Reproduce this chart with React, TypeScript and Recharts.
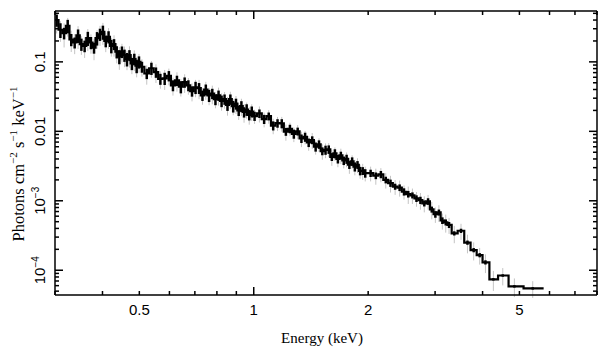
import { LineChart, Line, XAxis, YAxis, ErrorBar } from 'recharts';

// bin centres (keV)
const energy = [
  0.303, 0.31, 0.317, 0.324, 0.331, 0.338, 0.345, 0.352, 0.359, 0.366, 0.373, 0.38, 0.387, 0.394, 0.401,
  0.408, 0.415, 0.422, 0.429, 0.436, 0.443, 0.45, 0.457, 0.464, 0.471, 0.478, 0.485, 0.492, 0.499,
  0.508, 0.523, 0.538, 0.553, 0.568, 0.583, 0.598, 0.613, 0.628, 0.643, 0.658, 0.673, 0.688, 0.703, 0.718,
  0.733, 0.748, 0.763, 0.778, 0.793, 0.808, 0.823, 0.838, 0.853, 0.868, 0.883, 0.898, 0.913, 0.928, 0.943,
  0.958, 0.973, 0.988,
  1.005, 1.035, 1.065, 1.095, 1.125, 1.155, 1.185, 1.215, 1.245, 1.275, 1.305, 1.335, 1.365, 1.395, 1.425,
  1.455, 1.485, 1.515, 1.545, 1.575, 1.605, 1.635, 1.665, 1.695, 1.725, 1.755, 1.785, 1.815, 1.845, 1.875,
  1.905, 1.935, 1.965,
  2.03, 2.095, 2.16, 2.225, 2.29, 2.355, 2.42, 2.485, 2.55, 2.615, 2.68, 2.745, 2.81, 2.875, 2.94, 3.005,
  3.07, 3.135, 3.2, 3.265,
  3.37, 3.51, 3.65, 3.79, 3.93, 4.07,
  4.27, 4.52, 4.85, 5.42, 5.79,
];

// photons cm^-2 s^-1 keV^-1
const flux = [
  0.4, 0.29, 0.26, 0.33, 0.21, 0.19, 0.24, 0.18, 0.17, 0.22, 0.19, 0.16, 0.22, 0.25, 0.27,
  0.2, 0.23, 0.17, 0.18, 0.14, 0.12, 0.14, 0.125, 0.11, 0.125, 0.095, 0.11, 0.088, 0.1,
  0.085, 0.068, 0.081, 0.071, 0.057, 0.058, 0.063, 0.046, 0.054, 0.044, 0.051, 0.046, 0.038, 0.043, 0.042,
  0.033, 0.04, 0.033, 0.035, 0.029, 0.033, 0.0275, 0.029, 0.024, 0.029, 0.023, 0.025, 0.02, 0.023, 0.019,
  0.0206, 0.0173, 0.0193,
  0.0166, 0.0181, 0.015, 0.0165, 0.0121, 0.0131, 0.013, 0.0099, 0.0109, 0.0092, 0.01, 0.0079, 0.0083, 0.0069, 0.0075,
  0.006, 0.0065, 0.0052, 0.0054, 0.0055, 0.0043, 0.0048, 0.004, 0.0045, 0.0038, 0.004, 0.0033, 0.0037, 0.0031, 0.0033,
  0.0027, 0.0027, 0.0025,
  0.0025, 0.0023, 0.0024, 0.002, 0.0018, 0.0016, 0.00155, 0.00135, 0.00125, 0.0012, 0.00108, 0.00102, 0.00092, 0.00098, 0.00075, 0.00064,
  0.00068, 0.00052, 0.00049, 0.00045,
  0.00034, 0.00037, 0.00025, 0.000195, 0.000165, 0.00013,
  0.000074, 0.000084, 0.0000586, 0.0000548, 0.0000548,
];

// relative 1-sigma error of each bin (black bars)
const fluxSigma = [
  0.2, 0.24, 0.19, 0.22, 0.2, 0.18, 0.22, 0.2, 0.19, 0.23, 0.2, 0.18, 0.22, 0.2, 0.23,
  0.19, 0.2, 0.22, 0.18, 0.2, 0.23, 0.19, 0.2, 0.22, 0.18, 0.2, 0.19, 0.22, 0.2,
  0.18, 0.17, 0.2, 0.17, 0.18, 0.2, 0.17, 0.18, 0.17, 0.2, 0.17, 0.18, 0.17, 0.2, 0.18,
  0.17, 0.18, 0.2, 0.17, 0.18, 0.17, 0.19, 0.17, 0.18, 0.17, 0.19, 0.18, 0.17, 0.18, 0.17,
  0.19, 0.17, 0.18,
  0.15, 0.14, 0.15, 0.13, 0.15, 0.14, 0.15, 0.13, 0.14, 0.15, 0.13, 0.14, 0.15, 0.14, 0.13,
  0.15, 0.14, 0.13, 0.15, 0.14, 0.13, 0.15, 0.14, 0.13, 0.14, 0.15, 0.13, 0.14, 0.15, 0.13,
  0.14, 0.13, 0.14,
  0.12, 0.11, 0.12, 0.11, 0.12, 0.1, 0.11, 0.12, 0.11, 0.1, 0.11, 0.12, 0.1, 0.11, 0.1, 0.11,
  0.1, 0.11, 0.1, 0.1,
  0.07, 0.07, 0.07, 0.07, 0.07, 0.07,
  0.04, 0.04, 0.04, 0.04, 0,
];

// relative outer error of each bin (grey bars)
const fluxErr = [
  0.36, 0.33, 0.38, 0.3, 0.34, 0.32, 0.36, 0.3, 0.33, 0.35, 0.31, 0.34, 0.3, 0.32, 0.35,
  0.31, 0.33, 0.3, 0.34, 0.32, 0.36, 0.3, 0.33, 0.31, 0.34, 0.3, 0.33, 0.32, 0.3,
  0.28, 0.31, 0.27, 0.3, 0.28, 0.32, 0.27, 0.29, 0.31, 0.28, 0.3, 0.27, 0.29, 0.28, 0.31,
  0.27, 0.29, 0.28, 0.3, 0.26, 0.29, 0.28, 0.27, 0.3, 0.28, 0.26, 0.29, 0.27, 0.28, 0.3,
  0.26, 0.28, 0.27,
  0.23, 0.26, 0.24, 0.22, 0.25, 0.23, 0.24, 0.26, 0.22, 0.24, 0.23, 0.25, 0.22, 0.24, 0.26,
  0.23, 0.22, 0.25, 0.24, 0.23, 0.26, 0.22, 0.24, 0.25, 0.23, 0.24, 0.26, 0.22, 0.25, 0.24,
  0.23, 0.26, 0.24,
  0.24, 0.26, 0.23, 0.25, 0.27, 0.24, 0.26, 0.23, 0.28, 0.25, 0.24, 0.27, 0.26, 0.24, 0.28, 0.25,
  0.27, 0.26, 0.29, 0.26,
  0.28, 0.26, 0.3, 0.29, 0.27, 0.3,
  0.32, 0.28, 0.3, 0.27, 0,
];

const xTicks = [0.3, 0.4, 0.5, 0.6, 0.7, 0.8, 0.9, 1, 2, 3, 4, 5, 6, 7, 8];
const xLabels = [0.5, 1, 2, 5];
const xMajor = [1];

const yTicks = [
  5e-5, 6e-5, 7e-5, 8e-5, 9e-5,
  1e-4, 2e-4, 3e-4, 4e-4, 5e-4, 6e-4, 7e-4, 8e-4, 9e-4,
  1e-3, 2e-3, 3e-3, 4e-3, 5e-3, 6e-3, 7e-3, 8e-3, 9e-3,
  0.01, 0.02, 0.03, 0.04, 0.05, 0.06, 0.07, 0.08, 0.09,
  0.1, 0.2, 0.3, 0.4, 0.5,
];
const yMajor = [1e-4, 1e-3, 0.01, 0.1];

const data = energy.map((e, i) => ({
  e,
  f: flux[i],
  sig: [flux[i] * fluxSigma[i], flux[i] * fluxSigma[i]],
  err: [flux[i] * fluxErr[i], flux[i] * fluxErr[i]],
}));

const INK = '#000';
const SANS = '"Liberation Sans", Arial, Helvetica, sans-serif';
const SERIF = '"Liberation Serif", "Times New Roman", serif';

function yLabel(v: number) {
  if (v === 0.1) return <tspan>0.1</tspan>;
  if (v === 0.01) return <tspan>0.01</tspan>;
  const exp = v === 1e-3 ? '−3' : '−4';
  return (
    <>
      <tspan>10</tspan>
      <tspan dy={-6} fontSize={10}>{exp}</tspan>
    </>
  );
}

function bottomTick(props: any) {
  const { x, y, payload } = props;
  const v = payload.value;
  const len = xMajor.includes(v) ? 8 : 4;
  return (
    <g>
      <line x1={x} x2={x} y1={y} y2={y - len} stroke={INK} strokeWidth={1.5} />
      {xLabels.includes(v) && (
        <text x={x} y={y + 20} textAnchor="middle" fontFamily={SANS} fontSize={15} fill={INK}>
          {String(v)}
        </text>
      )}
    </g>
  );
}

function topTick(props: any) {
  const { x, y, payload } = props;
  const len = xMajor.includes(payload.value) ? 8 : 4;
  return <line x1={x} x2={x} y1={y} y2={y + len} stroke={INK} strokeWidth={1.5} />;
}

function leftTick(props: any) {
  const { x, y, payload } = props;
  const v = payload.value;
  const major = yMajor.includes(v);
  return (
    <g>
      <line x1={x} x2={x + (major ? 8 : 4)} y1={y} y2={y} stroke={INK} strokeWidth={1.5} />
      {major && (
        <text
          x={x - 10}
          y={y}
          textAnchor="middle"
          transform={`rotate(-90 ${x - 10} ${y})`}
          fontFamily={SANS}
          fontSize={15}
          fill={INK}
        >
          {yLabel(v)}
        </text>
      )}
    </g>
  );
}

function rightTick(props: any) {
  const { x, y, payload } = props;
  const len = yMajor.includes(payload.value) ? 8 : 4;
  return <line x1={x} x2={x - len} y1={y} y2={y} stroke={INK} strokeWidth={1.5} />;
}

function xTitle() {
  return (
    <text x={322} y={343} textAnchor="middle" fontFamily={SERIF} fontSize={15} fill={INK}>
      Energy (keV)
    </text>
  );
}

function yTitle() {
  return (
    <text
      x={24}
      y={164}
      textAnchor="middle"
      transform="rotate(-90 24 164)"
      fontFamily={SERIF}
      fontSize={16.5}
      fill={INK}
    >
      <tspan>Photons cm</tspan>
      <tspan dy={-7} fontSize={11}>−2</tspan>
      <tspan dy={7}> s</tspan>
      <tspan dy={-7} fontSize={11}>−1</tspan>
      <tspan dy={7}> keV</tspan>
      <tspan dy={-7} fontSize={11}>−1</tspan>
    </text>
  );
}

const axisLine = { stroke: INK, strokeWidth: 1.5 };

export default function App() {
  return (
    <div style={{ position: 'absolute', left: 0, top: 0, background: '#fff' }}>
      <LineChart width={608} height={357} data={data} margin={{ top: 0, right: 0, bottom: 0, left: 0 }}>
        <XAxis
          dataKey="e"
          type="number"
          scale="log"
          domain={[0.3, 8]}
          allowDataOverflow
          ticks={xTicks}
          interval={0}
          tickSize={0}
          tickMargin={0}
          tickLine={false}
          height={62}
          axisLine={axisLine}
          tick={bottomTick}
          label={xTitle}
        />
        <XAxis
          xAxisId="top"
          orientation="top"
          dataKey="e"
          type="number"
          scale="log"
          domain={[0.3, 8]}
          allowDataOverflow
          ticks={xTicks}
          interval={0}
          tickSize={0}
          tickMargin={0}
          tickLine={false}
          height={11}
          axisLine={axisLine}
          tick={topTick}
        />
        <YAxis
          type="number"
          scale="log"
          domain={[4.4e-5, 0.54]}
          allowDataOverflow
          ticks={yTicks}
          interval={0}
          tickSize={0}
          tickMargin={0}
          tickLine={false}
          width={55}
          axisLine={axisLine}
          tick={leftTick}
          label={yTitle}
        />
        <YAxis
          yAxisId="right"
          orientation="right"
          type="number"
          scale="log"
          domain={[4.4e-5, 0.54]}
          allowDataOverflow
          ticks={yTicks}
          interval={0}
          tickSize={0}
          tickMargin={0}
          tickLine={false}
          width={11}
          axisLine={axisLine}
          tick={rightTick}
        />
        <Line dataKey="f" stroke="none" dot={false} isAnimationActive={false} legendType="none">
          <ErrorBar dataKey="err" width={0} stroke="#c4c4c4" strokeWidth={1} direction="y" isAnimationActive={false} />
        </Line>
        <Line dataKey="f" stroke="none" dot={false} isAnimationActive={false} legendType="none">
          <ErrorBar dataKey="sig" width={0} stroke={INK} strokeWidth={2.5} direction="y" isAnimationActive={false} />
        </Line>
        <Line
          type="step"
          dataKey="f"
          stroke={INK}
          strokeWidth={2.2}
          dot={false}
          isAnimationActive={false}
        />
      </LineChart>
    </div>
  );
}
